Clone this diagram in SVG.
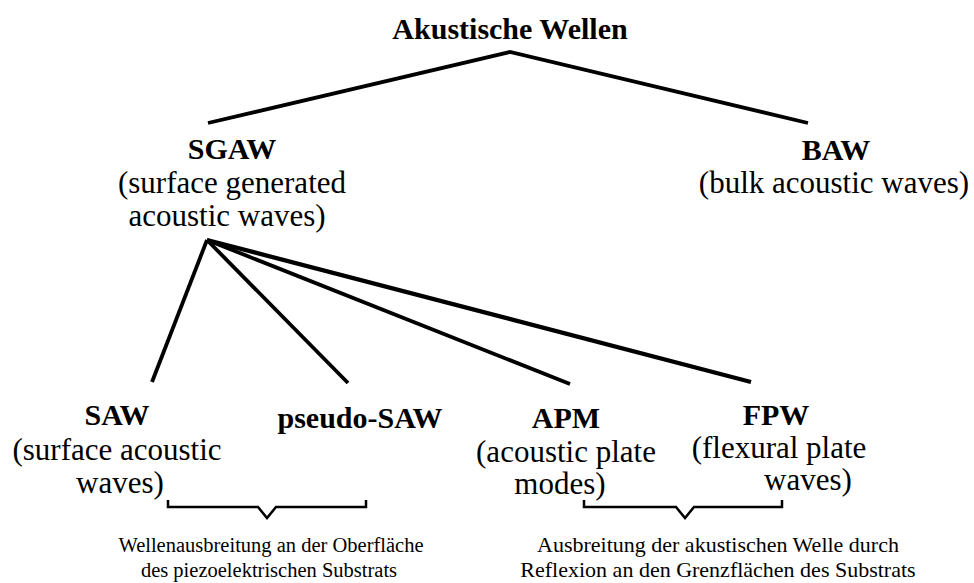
<svg xmlns="http://www.w3.org/2000/svg" width="974" height="583" viewBox="0 0 974 583">
<style>
text{fill:#000;text-anchor:middle}
.b{font-weight:bold;font-size:30px}
.r{font-size:31px}
.s{font-size:20.5px}
.s2{font-size:22px}
.ln{stroke:#000;stroke-width:3.8;fill:none;stroke-linecap:butt}
.br{stroke:#000;stroke-width:2.5;fill:none}
</style>
<rect width="974" height="583" fill="#fff"/>
<g id="connectors">
<polyline class="ln" points="208,123 510,52 808,123"/>
<line class="ln" x1="207" y1="240" x2="152" y2="382"/>
<line class="ln" x1="207" y1="240" x2="348" y2="383"/>
<line class="ln" x1="207" y1="240" x2="570" y2="384"/>
<line class="ln" x1="207" y1="240" x2="751" y2="382" style="stroke-width:4.3"/>
</g>
<g font-family="'Liberation Serif', 'Times New Roman', serif">
<g id="akustische-wellen"><text class="b" x="510" y="39">Akustische Wellen</text></g>
<g id="sgaw">
<text class="b" x="232" y="159">SGAW</text>
<text class="r" x="232" y="193">(surface generated</text>
<text class="r" x="227" y="226">acoustic waves)</text>
</g>
<g id="baw">
<text class="b" x="836" y="160">BAW</text>
<text class="r" x="834" y="193">(bulk acoustic waves)</text>
</g>
<g id="saw">
<text class="b" x="117" y="425">SAW</text>
<text class="r" x="117" y="460">(surface acoustic</text>
<text class="r" x="120" y="493">waves)</text>
</g>
<g id="pseudo-saw"><text class="b" x="360" y="428">pseudo-SAW</text></g>
<g id="apm">
<text class="b" x="566" y="428">APM</text>
<text class="r" x="566" y="462">(acoustic plate</text>
<text class="r" x="560" y="494">modes)</text>
</g>
<g id="fpw">
<text class="b" x="776" y="425">FPW</text>
<text class="r" x="779" y="458">(flexural plate</text>
<text class="r" x="808" y="490">waves)</text>
</g>
<g id="brace-left">
<path class="br" d="M168,500 V507 H258 L267,518 L276,507 H366 V500"/>
<text class="s" x="271" y="552">Wellenausbreitung an der Oberfläche</text>
<text class="s" x="269" y="577">des piezoelektrischen Substrats</text>
</g>
<g id="brace-right">
<path class="br" d="M584,500 V507 H676 L685,518 L694,507 H782 V500"/>
<text class="s2" x="718" y="552">Ausbreitung der akustischen Welle durch</text>
<text class="s2" x="718" y="577">Reflexion an den Grenzflächen des Substrats</text>
</g>
</g>
</svg>
